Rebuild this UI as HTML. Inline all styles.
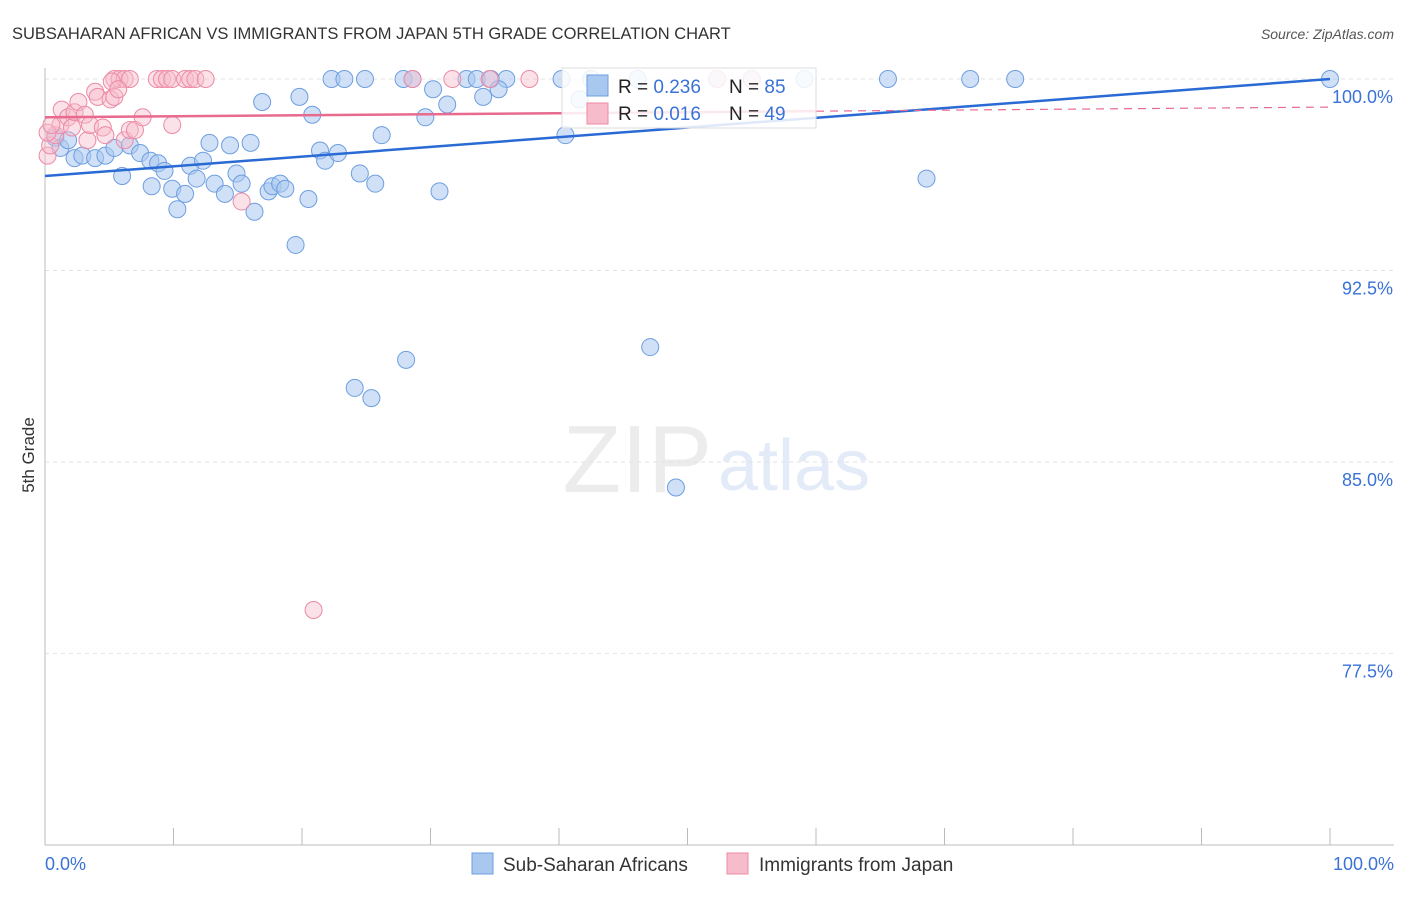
<!DOCTYPE html>
<html><head><meta charset="utf-8"><style>
body{margin:0;background:#fff;font-family:"Liberation Sans",sans-serif}
svg text{font-family:"Liberation Sans",sans-serif}
</style></head><body>
<svg id="c" width="1406" height="892">
<text x="12" y="39" font-size="16.5" fill="#333">SUBSAHARAN AFRICAN VS IMMIGRANTS FROM JAPAN 5TH GRADE CORRELATION CHART</text>
<text x="1394" y="39" font-size="14" fill="#555" font-style="italic" text-anchor="end">Source: ZipAtlas.com</text>
<text x="34" y="455" font-size="17" fill="#333" transform="rotate(-90 34 455)" text-anchor="middle">5th Grade</text>
<text x="712" y="492" font-size="96" fill="#ececec" text-anchor="end" font-family="Liberation Serif">ZIP</text>
<text x="718" y="490" font-size="72" fill="#e2ebf7">atlas</text>
<g id="grid"></g><g id="pts"></g><g id="lines"></g>
<g>
<rect x="562" y="68" width="254" height="60" fill="#fff" fill-opacity="0.85" stroke="#ddd"/>
<rect x="587" y="75" width="21" height="21" fill="#a9c8f0" stroke="#6d9ee0"/>
<text x="618" y="93" font-size="19" fill="#222">R = <tspan fill="#3a72d6">0.236</tspan></text>
<text x="729" y="93" font-size="19" fill="#222">N = <tspan fill="#3a72d6">85</tspan></text>
<rect x="587" y="103" width="21" height="21" fill="#f7bccb" stroke="#ec8aa5"/>
<text x="618" y="120" font-size="19" fill="#222">R = <tspan fill="#3a72d6">0.016</tspan></text>
<text x="729" y="120" font-size="19" fill="#222">N = <tspan fill="#3a72d6">49</tspan></text>
</g>
<g>
<rect x="472" y="853" width="21" height="21" fill="#a9c8f0" stroke="#6d9ee0"/>
<text x="503" y="871" font-size="19" fill="#333">Sub-Saharan Africans</text>
<rect x="727" y="853" width="21" height="21" fill="#f7bccb" stroke="#ec8aa5"/>
<text x="759" y="871" font-size="19" fill="#333">Immigrants from Japan</text>
</g>
<text x="45" y="870" font-size="18" fill="#3a72d6">0.0%</text>
<text x="1394" y="870" font-size="18" fill="#3a72d6" text-anchor="end">100.0%</text>
</svg>
<script>
const yTicks=[100,92.5,85,77.5];
const yTickLabels=["100.0%","92.5%","85.0%","77.5%"];
const blueX=[22.3,23.3,24.9,27.9,28.6,32.8,33.6,34.7,35.9,40.2,42.5,46.1,52.3,55,59.1,65.6,72,75.5,100,16.9,19.8,20.8,30.2,31.3,34.1,35.3,29.6,26.2,40.5,41.6,0.8,1.2,1.8,2.3,2.9,3.9,4.7,5.4,6.6,7.4,6,8.2,8.8,9.3,8.3,9.9,10.9,10.3,11.3,11.8,12.8,13.2,12.3,14,14.4,14.9,15.3,16,16.3,17.4,17.7,18.3,18.7,20.5,19.5,21.4,21.8,22.8,24.5,25.7,24.1,25.4,28.1,30.7,47.1,49.1,68.6];
const blueY=[100,100,100,100,100,100,100,100,100,100,100,100,100,100,100,100,100,100,100,99.1,99.3,98.6,99.6,99,99.3,99.6,98.5,97.8,97.8,99.2,97.7,97.3,97.6,96.9,97,96.9,97,97.3,97.4,97.1,96.2,96.8,96.7,96.4,95.8,95.7,95.5,94.9,96.6,96.1,97.5,95.9,96.8,95.5,97.4,96.3,95.9,97.5,94.8,95.6,95.8,95.9,95.7,95.3,93.5,97.2,96.8,97.1,96.3,95.9,87.9,87.5,89,95.6,89.5,84,96.1];
const pinkX=[5.4,5.8,6.2,6.6,8.7,9.1,9.5,9.9,10.9,11.3,11.7,12.5,28.6,31.7,34.6,37.7,52.3,55,0.2,0.4,0.8,1.2,1.3,1.8,2.1,2.3,2.6,3.1,3.3,3.5,3.9,4.1,4.5,4.7,5.1,5.2,5.4,5.7,6.2,6.6,7,7.6,9.9,15.3,20.9,0.2,0.5];
const pinkY=[100,100,100,100,100,100,100,100,100,100,100,100,100,100,100,100,100,100,97,97.4,97.8,98.2,98.8,98.5,98.1,98.7,99.1,98.6,97.6,98.2,99.5,99.3,98.1,97.8,99.2,99.9,99.3,99.6,97.6,98,98,98.5,98.2,95.2,79.2,97.9,98.2];
const blueLine=[96.2,100];
const pinkLine=[98.5,98.9];
const X=v=>45+v*12.85, Y=v=>79+(100-v)*25.53;
const NS="http://www.w3.org/2000/svg";
function mk(t,a,p){const e=document.createElementNS(NS,t);for(const k in a)e.setAttribute(k,a[k]);p.appendChild(e);return e;}
const g=document.getElementById('grid');
yTicks.forEach((t,i)=>{
 const l=mk('line',{x1:45,x2:1394,y1:Y(t),y2:Y(t),stroke:'#e2e2e2','stroke-dasharray':'4 4'},g);
 
 
 const tx=mk('text',{x:1393,y:Y(t)+24,'font-size':18,fill:'#3a72d6','text-anchor':'end'},g);
 tx.textContent=yTickLabels[i];
 
 
});
mk('line',{x1:45,x2:45,y1:68,y2:845,stroke:'#bbb'},g);
mk('line',{x1:45,x2:1394,y1:845,y2:845,stroke:'#bbb'},g);
for(let i=0;i<=10;i++){const x=X(i*10);mk('line',{x1:x,x2:x,y1:828,y2:845,stroke:'#bbb'},g);}
const p=document.getElementById('pts');
blueX.forEach((x,i)=>{const c=mk('circle',{cx:X(x),cy:Y(blueY[i]),r:8.5,fill:'#a9c8f0','fill-opacity':0.55,stroke:'#6d9ee0','stroke-width':1},p);
 
 });
pinkX.forEach((x,i)=>{const c=mk('circle',{cx:X(x),cy:Y(pinkY[i]),r:8.5,fill:'#f7bccb','fill-opacity':0.45,stroke:'#ec8aa5','stroke-width':1},p);
 
 });
const L=document.getElementById('lines');
const b=mk('line',{x1:X(0),y1:Y(blueLine[0]),x2:X(100),y2:Y(blueLine[1]),stroke:'#2a6ad4','stroke-width':2.5},L);


const pm=pinkLine[0]+(pinkLine[1]-pinkLine[0])*0.6;
const p1=mk('line',{x1:X(0),y1:Y(pinkLine[0]),x2:X(60),y2:Y(pm),stroke:'#e86a8f','stroke-width':2.5},L);


const p2=mk('line',{x1:X(60),y1:Y(pm),x2:X(100),y2:Y(pinkLine[1]),stroke:'#e86a8f','stroke-width':1.2,'stroke-dasharray':'8 6'},L);


</script>
</body></html>
